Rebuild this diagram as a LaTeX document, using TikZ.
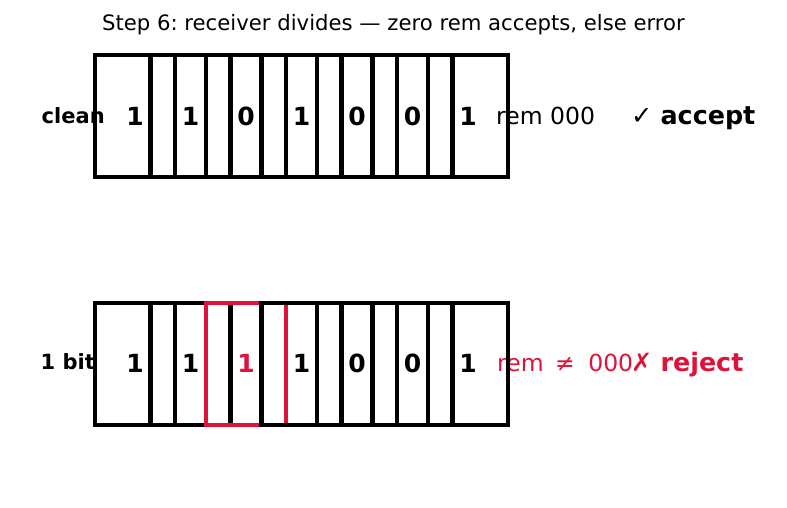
\documentclass[tikz,border=0pt]{standalone}
\usepackage{fontspec}
\setmainfont{DejaVu Sans}
\definecolor{errred}{HTML}{DC143C}
\frenchspacing
\begin{document}
\begin{tikzpicture}[x=1pt,y=-1pt,
  bitbox/.style={draw, line width=4.2pt, minimum width=80pt, minimum height=122pt,
    inner sep=0pt, font=\fontsize{25}{25}\selectfont\bfseries},
  rowlabel/.style={anchor=base west, inner sep=0pt, font=\fontsize{21}{21}\selectfont\bfseries},
  remtext/.style={anchor=base west, inner sep=0pt, font=\fontsize{23.5}{23.5}\selectfont},
  result/.style={anchor=base west, inner sep=0pt, font=\fontsize{25.4}{25.4}\selectfont}]
\useasboundingbox (0,0) rectangle (787,508);
\node[anchor=base, inner sep=0pt, font=\fontsize{21.2}{21.2}\selectfont] (title) at (393.5,31)
  {Step 6: receiver divides — zero rem accepts, else error};
% labels (drawn before boxes so box edges lie on top)
\node[rowlabel] (lclean) at (41.5,123.5) {clean};
\node[rowlabel] (lerr) at (40.5,369.5) {1 bit};
\node[remtext] (rem1) at (496,125) {rem 000};
\node[result] (res1) at (631,125) {✓ \textbf{accept}};
\node[remtext, text=errred] (rem2) at (497,371) {rem\hspace{4pt} ≠ \hspace{6pt}000};
\node[result, text=errred] (res2) at (631,371) {✗ \textbf{reject}};
% clean row
\foreach \b [count=\i] in {1,1,0,1,0,0,1}{
  \node[bitbox] (c\i) at ({135+55.5*(\i-1)},116) {\b};
}
% error row
\foreach \b [count=\i] in {1,1,1,1,0,0,1}{
  \ifnum\i=3
    \node[bitbox, draw=errred, text=errred] (e\i) at ({135+55.5*(\i-1)},363.6) {\b};
  \else
    \node[bitbox] (e\i) at ({135+55.5*(\i-1)},363.6) {\b};
  \fi
}
\end{tikzpicture}
\end{document}
